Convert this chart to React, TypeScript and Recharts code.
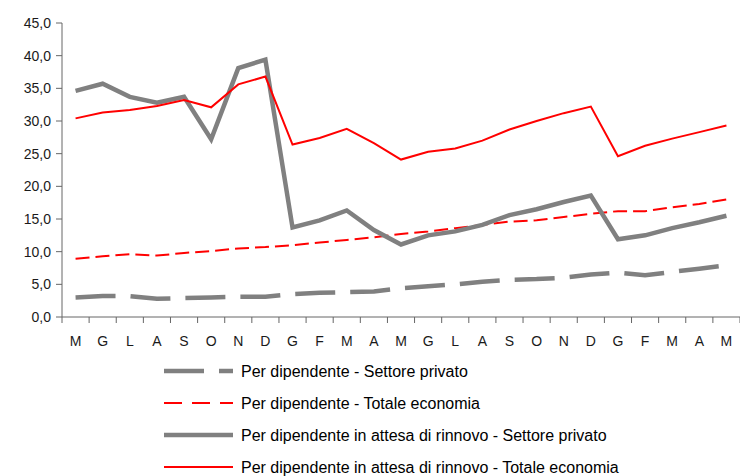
import { LineChart, Line, XAxis, YAxis } from 'recharts';

const months = ['M', 'G', 'L', 'A', 'S', 'O', 'N', 'D', 'G', 'F', 'M', 'A', 'M', 'G', 'L', 'A', 'S', 'O', 'N', 'D', 'G', 'F', 'M', 'A', 'M'];

const privatoDip = [3.0, 3.2, 3.2, 2.8, 2.9, 3.0, 3.1, 3.1, 3.5, 3.7, 3.8, 3.9, 4.4, 4.7, 5.0, 5.4, 5.7, 5.8, 6.0, 6.5, 6.8, 6.4, 6.9, 7.4, 7.9];
const totaleDip = [8.9, 9.3, 9.6, 9.4, 9.8, 10.1, 10.5, 10.7, 11.0, 11.4, 11.8, 12.2, 12.7, 13.1, 13.6, 14.1, 14.6, 14.8, 15.3, 15.8, 16.2, 16.2, 16.8, 17.3, 18.0];
const privatoAttesa = [34.6, 35.7, 33.7, 32.8, 33.7, 27.2, 38.1, 39.4, 13.7, 14.8, 16.3, 13.3, 11.1, 12.5, 13.1, 14.1, 15.6, 16.5, 17.6, 18.6, 11.9, 12.5, 13.6, 14.5, 15.5];
const totaleAttesa = [30.4, 31.3, 31.7, 32.3, 33.2, 32.1, 35.6, 36.8, 26.4, 27.4, 28.8, 26.6, 24.1, 25.3, 25.8, 27.0, 28.7, 30.0, 31.2, 32.2, 24.6, 26.2, 27.3, 28.3, 29.3];

const yTicks = [0, 5, 10, 15, 20, 25, 30, 35, 40, 45];

const series = [
  { key: 'privatoDip', name: 'Per dipendente - Settore privato', color: '#808080', width: 4.5, dash: '40 15' },
  { key: 'totaleDip', name: 'Per dipendente - Totale economia', color: '#ff0000', width: 2, dash: '14 6' },
  { key: 'privatoAttesa', name: 'Per dipendente in attesa di rinnovo - Settore privato', color: '#808080', width: 4.5, dash: undefined },
  { key: 'totaleAttesa', name: 'Per dipendente in attesa di rinnovo - Totale economia', color: '#ff0000', width: 2, dash: undefined },
];

const data = months.map((m, i) => ({
  x: i + 0.5,
  month: m,
  privatoDip: privatoDip[i],
  totaleDip: totaleDip[i],
  privatoAttesa: privatoAttesa[i],
  totaleAttesa: totaleAttesa[i],
}));

// ticks on category boundaries (lines) and centres (labels)
const xTicks: number[] = [];
for (let i = 0; i <= months.length * 2; i++) xTicks.push(i / 2);

const FONT = '"Liberation Sans", Arial, sans-serif';
const AXIS = '#666666';

const MonthTick = (props: any) => {
  const { x, y, payload } = props;
  const v = payload.value;
  if (Number.isInteger(v)) {
    return <line x1={x} x2={x} y1={y} y2={y + 6} stroke={AXIS} strokeWidth={1} />;
  }
  return (
    <text x={x} y={y + 29} textAnchor="middle" fontSize={14} fontFamily={FONT} fill="#1a1a1a">
      {months[Math.floor(v)]}
    </text>
  );
};

const legendY = [371, 403, 435, 467];

export default function App() {
  return (
    <div style={{ position: 'absolute', left: 0, top: 0, width: 740, height: 476, background: '#fff' }}>
      <LineChart width={740} height={360} data={data} margin={{ top: 23, right: 0, left: 0, bottom: 0 }}>
        <XAxis
          dataKey="x"
          type="number"
          domain={[0, months.length]}
          ticks={xTicks}
          interval={0}
          tick={<MonthTick />}
          tickLine={false}
          tickSize={0}
          tickMargin={0}
          height={43}
          stroke={AXIS}
        />
        <YAxis
          domain={[0, 45]}
          ticks={yTicks}
          interval={0}
          width={62}
          tickSize={6}
          tickMargin={5}
          stroke={AXIS}
          tickFormatter={(v: number) => v.toFixed(1).replace('.', ',')}
          tick={{ fontSize: 14, fontFamily: FONT, fill: '#1a1a1a' }}
        />
        {series.map((s) => (
          <Line
            key={s.key}
            dataKey={s.key}
            name={s.name}
            stroke={s.color}
            strokeWidth={s.width}
            strokeDasharray={s.dash}
            dot={false}
            activeDot={false}
            isAnimationActive={false}
            type="linear"
          />
        ))}
      </LineChart>
      <svg width={740} height={476} style={{ position: 'absolute', left: 0, top: 0, pointerEvents: 'none' }}>
        {series.map((s, i) => (
          <g key={s.key}>
            <line
              x1={164}
              x2={233}
              y1={legendY[i]}
              y2={legendY[i]}
              stroke={s.color}
              strokeWidth={s.width}
              strokeDasharray={s.key === 'totaleDip' ? '18 10' : s.dash}
            />
            <text x={241} y={legendY[i] + 6} fontSize={16} fontFamily={FONT} fill="#000">
              {s.name}
            </text>
          </g>
        ))}
      </svg>
    </div>
  );
}
